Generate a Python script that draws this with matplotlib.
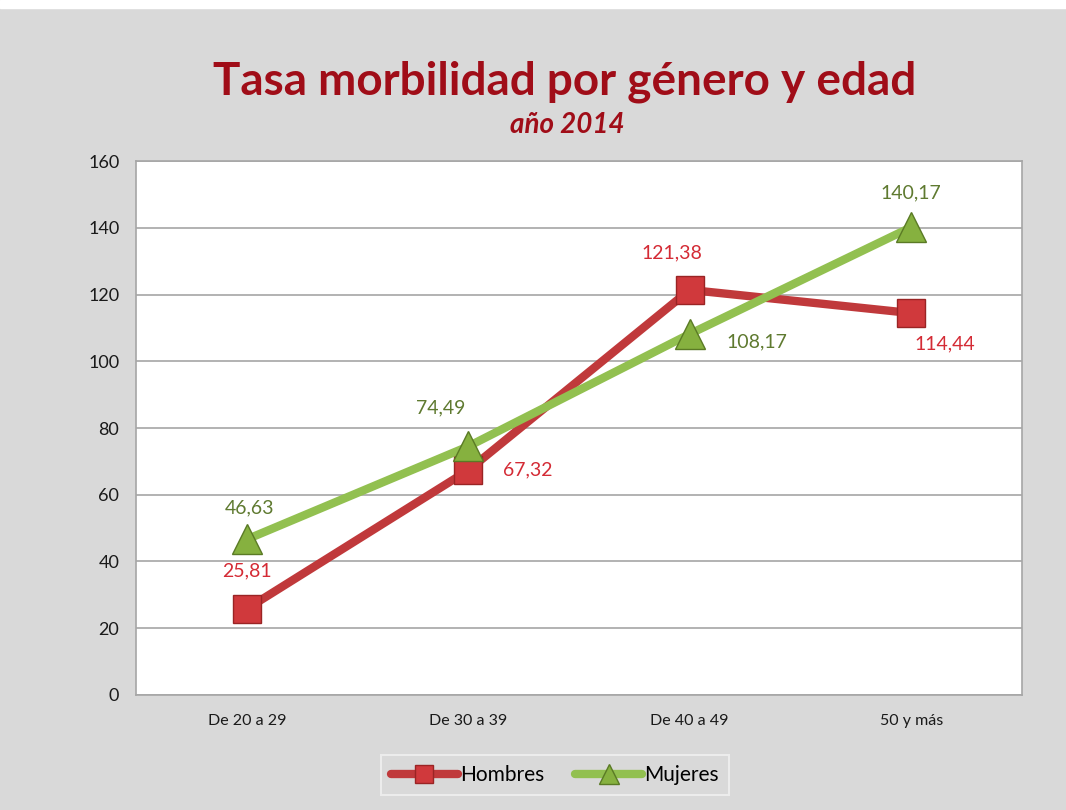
import matplotlib.pyplot as plt
import numpy as np

# Data
categories = ['De 20 a 29', 'De 30 a 39', 'De 40 a 49', '50 y más']
hombres = [25.81, 67.32, 121.38, 114.44]
mujeres = [46.63, 74.49, 108.17, 140.17]
y_ticks = [0, 20, 40, 60, 80, 100, 120, 140, 160]

plt.rcParams['font.family'] = ['Lato', 'DejaVu Sans']

red_line = '#c0393b'
red_text = '#d42b35'
green_line = '#92c050'
green_text = '#5f7a30'
title_color = '#a00d18'

fig = plt.figure(figsize=(10.66, 8.1), dpi=100)
fig.patch.set_facecolor('#d9d9d9')
ax = fig.add_axes([0.1276, 0.142, 0.8311, 0.6592])
ax.set_facecolor('white')

x = np.arange(len(categories))
ax.plot(x, hombres, color=red_line, linewidth=6, marker='s', markersize=20,
        markerfacecolor='#d0393c', markeredgecolor='#9a2424', markeredgewidth=1,
        label='Hombres', zorder=3, solid_capstyle='round')
ax.plot(x, mujeres, color=green_line, linewidth=6, marker='^', markersize=22,
        markerfacecolor='#86b13f', markeredgecolor='#5a7a25', markeredgewidth=1,
        label='Mujeres', zorder=4, solid_capstyle='round')

# data labels (offsets in points)
h_off = [(0, 27), (43, 0), (-13, 27), (24, -22)]
m_off = [(2, 23), (-20, 28), (48, -6), (0, 25)]
for i, v in enumerate(hombres):
    ax.annotate(f'{v:.2f}'.replace('.', ','), (x[i], v), xytext=h_off[i],
                textcoords='offset points', ha='center', va='center',
                fontsize=14, color=red_text, zorder=5)
for i, v in enumerate(mujeres):
    ax.annotate(f'{v:.2f}'.replace('.', ','), (x[i], v), xytext=m_off[i],
                textcoords='offset points', ha='center', va='center',
                fontsize=14, color=green_text, zorder=5)

ax.set_xlim(-0.5, 3.5)
ax.set_ylim(0, 160)
ax.set_yticks(y_ticks)
ax.set_xticks(x)
ax.set_xticklabels(categories, fontsize=11.5, color='#1a1a1a')
ax.tick_params(axis='y', labelsize=13, colors='#1a1a1a', length=0, pad=12)
ax.tick_params(axis='x', length=0, pad=14)
ax.grid(True, axis='y', color='#a6a6a6', linewidth=1.2)
ax.set_axisbelow(True)
for s in ax.spines.values():
    s.set_color('#a6a6a6')
    s.set_linewidth(1.2)

fig.text(0.530, 0.899, 'Tasa morbilidad por género y edad', ha='center', va='center',
         fontsize=33, fontweight='bold', color=title_color)
fig.text(0.532, 0.846, 'año 2014', ha='center', va='center',
         fontsize=20, fontweight='bold', style='italic', color=title_color)

leg = ax.legend(loc='center', bbox_to_anchor=(0.5206, 0.0432), bbox_transform=fig.transFigure,
                ncol=2, fontsize=15, frameon=True, fancybox=False, handlelength=3.2,
                handletextpad=0.1, columnspacing=1.5, markerscale=0.65, borderpad=0.5)
leg.get_frame().set_facecolor('#d9d9d9')
leg.get_frame().set_edgecolor('#f2f2f2')
leg.get_frame().set_linewidth(1.5)

# white strip at the top edge
fig.patches.append(plt.Rectangle((0, 0.99), 1, 0.01, transform=fig.transFigure,
                                 color='white', zorder=0))

fig.savefig('out.png', dpi=100, facecolor=fig.get_facecolor())
